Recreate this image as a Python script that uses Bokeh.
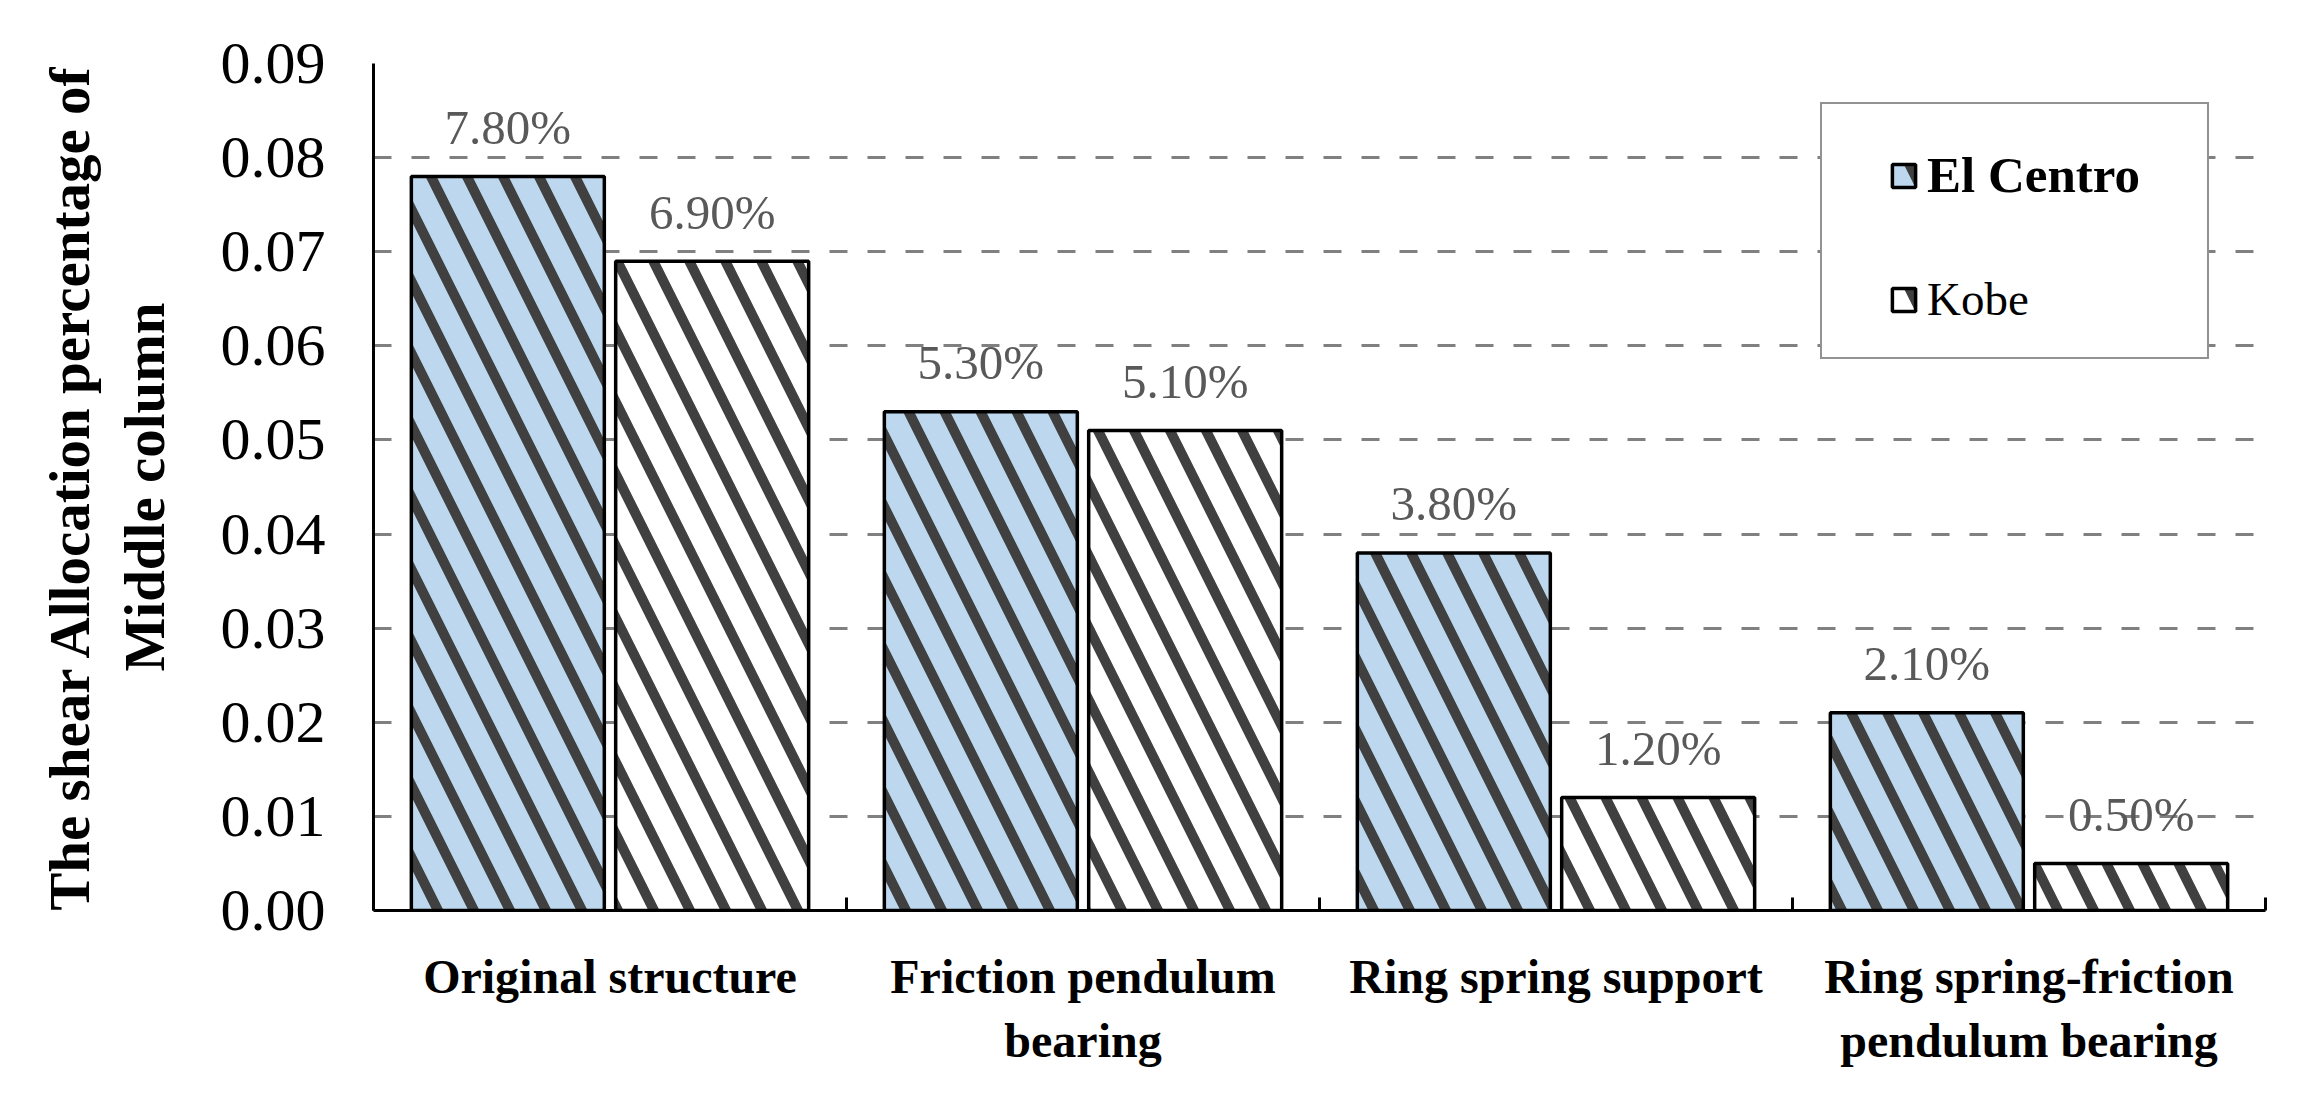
from bokeh.plotting import figure
from bokeh.models import (Range1d, FixedTicker, ColumnDataSource, Legend, LegendItem,
                          PrintfTickFormatter)
from bokeh.transform import dodge
from bokeh.embed import file_html
from bokeh.resources import INLINE
from bokeh.core.properties import value

# ---------------- data ----------------
categories = ["Original structure", "Friction pendulum\nbearing",
              "Ring spring support", "Ring spring-friction\npendulum bearing"]
series_names = ["El Centro", "Kobe"]
el_centro = [0.078, 0.053, 0.038, 0.021]
kobe = [0.069, 0.051, 0.012, 0.005]
el_centro_labels = ["7.80%", "5.30%", "3.80%", "2.10%"]
kobe_labels = ["6.90%", "5.10%", "1.20%", "0.50%"]
y_ticks = [0.00, 0.01, 0.02, 0.03, 0.04, 0.05, 0.06, 0.07, 0.08, 0.09]
y_title = "The shear Allocation percentage of\nMiddle column"

# ---------------- style ----------------
FONT = "Liberation Serif"
BLUE = "#BDD7EE"
HATCH = "#404040"
OFF = 0.216
BW = 0.408

x = [i + 0.5 for i in range(len(categories))]
src = ColumnDataSource(dict(x=x, el=el_centro, kobe=kobe,
                            el_lab=el_centro_labels, kobe_lab=kobe_labels))

p = figure(width=2300, height=1090,
           x_range=Range1d(0, len(categories)), y_range=Range1d(y_ticks[0], y_ticks[-1]),
           output_backend="svg", toolbar_location=None,
           min_border_left=373, min_border_right=35, min_border_top=63, min_border_bottom=180)
p.outline_line_color = None
p.background_fill_color = "white"

hatch_kw = dict(hatch_pattern="left_diagonal_line", hatch_color=HATCH,
                hatch_weight=10, hatch_scale=72)

r_el = p.vbar(x=dodge("x", -OFF), top="el", width=BW, source=src,
              fill_color=BLUE, line_color="black", line_width=3.5, **hatch_kw)
r_kb = p.vbar(x=dodge("x", OFF), top="kobe", width=BW, source=src,
              fill_color="white", line_color="black", line_width=3.5, **hatch_kw)

lab_kw = dict(text_align="center", text_baseline="alphabetic", y_offset=-49,
              text_font=value(FONT), text_font_size="49px", text_color="#595959")
p.text(x=dodge("x", -OFF), y="el", text="el_lab", source=src, **lab_kw)
p.text(x=dodge("x", OFF), y="kobe", text="kobe_lab", source=src, **lab_kw)

# ---------------- axes ----------------
xa = p.xaxis[0]
xa.ticker = FixedTicker(ticks=x, minor_ticks=list(range(len(categories) + 1)))
xa.major_label_overrides = {xi: c for xi, c in zip(x, categories)}
xa.major_tick_line_color = None
xa.minor_tick_in = 13
xa.minor_tick_out = 0
xa.minor_tick_line_width = 3
xa.minor_tick_line_color = "black"
xa.axis_line_width = 3
xa.axis_line_color = "black"
xa.major_label_text_font = FONT
xa.major_label_text_font_style = "bold"
xa.major_label_text_font_size = "48px"
xa.major_label_text_color = "black"
xa.major_label_text_line_height = 1.22
xa.major_label_standoff = 33

ya = p.yaxis[0]
ya.ticker = FixedTicker(ticks=y_ticks)
ya.formatter = PrintfTickFormatter(format="%.2f")
ya.major_tick_in = 0
ya.major_tick_out = 0
ya.minor_tick_line_color = None
ya.axis_line_width = 3
ya.axis_line_color = "black"
ya.major_label_text_font = FONT
ya.major_label_text_font_size = "60px"
ya.major_label_text_color = "black"
ya.major_label_standoff = 48
ya.axis_label = y_title
ya.axis_label_text_font = FONT
ya.axis_label_text_font_style = "bold"
ya.axis_label_text_font_size = "57px"
ya.axis_label_text_color = "black"
ya.axis_label_text_line_height = 1.18
ya.axis_label_standoff = 42

p.xgrid.grid_line_color = None
p.ygrid.grid_line_color = "#808080"
p.ygrid.grid_line_width = 3
p.ygrid.grid_line_dash = "18 20"

# ---------------- legend ----------------
dummy = p.vbar(x=[], top=[], width=0.1, fill_alpha=0, line_alpha=0)
legA = Legend(items=[LegendItem(label=" ", renderers=[dummy])], location=(1447, 551),
              padding=0, spacing=0, margin=0, glyph_width=1, glyph_height=1,
              label_standoff=0, label_width=384, label_height=253,
              label_text_font_size="10px",
              border_line_color="#262626", border_line_width=2.5,
              background_fill_color="white", background_fill_alpha=1)
p.add_layout(legA)

leg_kw = dict(padding=0, spacing=0, margin=0, glyph_width=29, glyph_height=29,
              label_standoff=9, label_text_font=FONT,
              label_text_color="black", border_line_color=None,
              background_fill_alpha=0)
legB1 = Legend(items=[LegendItem(label=series_names[0], renderers=[r_el])],
               location=(1516, 706), label_text_font_style="bold",
               label_text_font_size="51px", **leg_kw)
legB2 = Legend(items=[LegendItem(label=series_names[1], renderers=[r_kb])],
               location=(1516, 584), label_text_font_style="normal",
               label_text_font_size="47px", **leg_kw)
p.add_layout(legB1)
p.add_layout(legB2)

open("out.html", "w").write(file_html(p, INLINE))
